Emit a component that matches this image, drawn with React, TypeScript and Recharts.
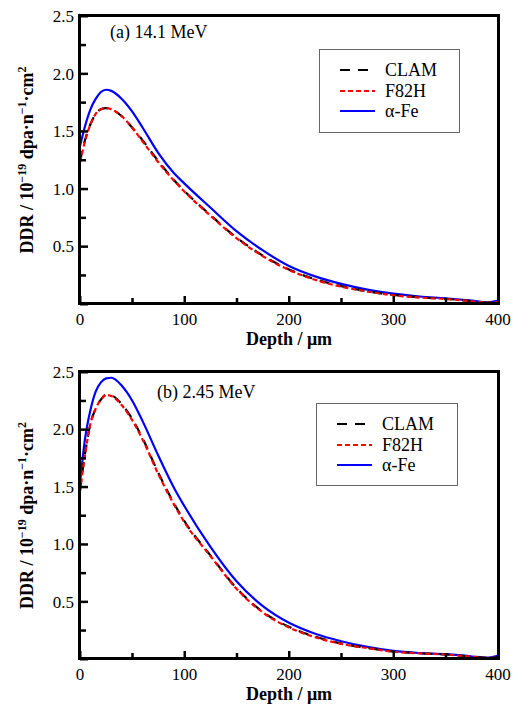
import React from "react";
import { LineChart, Line, XAxis, YAxis, Legend, Label } from "recharts";

const depth = [0, 5, 10, 15, 20, 25, 30, 40, 50, 60, 75, 90, 100, 125, 150, 175, 200, 225, 250, 275, 300, 325, 350, 375, 390, 400];

// (a) 14.1 MeV
const clamA = [1.24, 1.43, 1.56, 1.65, 1.69, 1.7, 1.69, 1.63, 1.53, 1.42, 1.24, 1.075, 0.98, 0.77, 0.575, 0.42, 0.3, 0.215, 0.155, 0.11, 0.078, 0.058, 0.045, 0.025, 0.012, 0.015];
const f82hA = [1.23, 1.42, 1.56, 1.65, 1.69, 1.7, 1.69, 1.63, 1.53, 1.41, 1.23, 1.07, 0.975, 0.765, 0.57, 0.415, 0.295, 0.21, 0.15, 0.108, 0.076, 0.056, 0.044, 0.024, 0.012, 0.015];
const feA = [1.37, 1.55, 1.69, 1.78, 1.84, 1.86, 1.85, 1.78, 1.67, 1.53, 1.31, 1.135, 1.045, 0.835, 0.63, 0.465, 0.33, 0.24, 0.175, 0.125, 0.09, 0.065, 0.05, 0.03, 0.015, 0.03];

// (b) 2.45 MeV
const clamB = [1.47, 1.8, 2.05, 2.18, 2.26, 2.3, 2.295, 2.22, 2.09, 1.92, 1.62, 1.355, 1.2, 0.9, 0.615, 0.41, 0.28, 0.195, 0.135, 0.097, 0.065, 0.05, 0.04, 0.02, 0.01, 0.015];
const f82hB = [1.46, 1.79, 2.05, 2.18, 2.26, 2.3, 2.29, 2.21, 2.08, 1.91, 1.61, 1.345, 1.19, 0.895, 0.61, 0.405, 0.275, 0.19, 0.132, 0.095, 0.063, 0.049, 0.039, 0.02, 0.01, 0.015];
const feB = [1.53, 1.93, 2.17, 2.33, 2.41, 2.445, 2.45, 2.38, 2.25, 2.07, 1.77, 1.49, 1.33, 0.975, 0.675, 0.46, 0.315, 0.22, 0.155, 0.105, 0.07, 0.052, 0.042, 0.022, 0.012, 0.03];

const xTicks = [0, 50, 100, 150, 200, 250, 300, 350, 400];
const yTicks = [0, 0.25, 0.5, 0.75, 1, 1.25, 1.5, 1.75, 2, 2.25, 2.5];

const FONT = '"Liberation Serif", "Times New Roman", Times, serif';

const XTick = (props: any) => {
  const { x, y, payload } = props;
  const major = payload.value % 100 === 0;
  const len = major ? 8 : 6;
  return (
    <g>
      <rect x={x - 1} y={y - len} width={2.5} height={len} fill="#000" />
      {major && (
        <text x={x} y={y + 21} textAnchor="middle" fontSize={17} fontFamily={FONT} fill="#000">
          {payload.value}
        </text>
      )}
    </g>
  );
};

const YTick = (props: any) => {
  const { x, y, payload } = props;
  const v = payload.value;
  const major = Math.round(v * 4) % 2 === 0;
  return (
    <g>
      <rect x={x} y={y - 1} width={major ? 8 : 6} height={2.5} fill="#000" />
      {major && v > 0 && (
        <text x={x - 6} y={y + 6} textAnchor="end" fontSize={17} fontFamily={FONT} fill="#000">
          {v.toFixed(1)}
        </text>
      )}
    </g>
  );
};

const YLabel = (props: any) => {
  const vb = props.viewBox || { y: 0, height: 0 };
  const cy = vb.y + vb.height / 2;
  return (
    <text
      x={33}
      y={cy}
      transform={`rotate(-90, 33, ${cy})`}
      textAnchor="middle"
      fontSize={18}
      fontWeight="bold"
      fontFamily={FONT}
      fill="#000"
    >
      DDR / 10
      <tspan dy={-7} fontSize={12}>−19</tspan>
      <tspan dy={7}> dpa·n</tspan>
      <tspan dy={-7} fontSize={12}>−1</tspan>
      <tspan dy={7}>·cm</tspan>
      <tspan dy={-7} fontSize={12}>2</tspan>
    </text>
  );
};

const XLabel = (props: any) => {
  const vb = props.viewBox || { x: 0, y: 0, width: 0 };
  return (
    <text
      x={vb.x + vb.width / 2}
      y={vb.y + 41}
      textAnchor="middle"
      fontSize={18}
      fontWeight="bold"
      fontFamily={FONT}
      fill="#000"
    >
      Depth / μm
    </text>
  );
};

const legendItems = [
  { name: "CLAM", color: "#000", dash: "10 8" },
  { name: "F82H", color: "#ff0000", dash: "5 3" },
  { name: "α-Fe", color: "#0000ff", dash: undefined },
];

const LegendBox = ({ w, h }: { w: number; h: number }) => (
  <div
    style={{
      position: "relative",
      width: w,
      height: h,
      boxSizing: "border-box",
      border: "1px solid #666",
      background: "#fff",
      fontFamily: FONT,
      fontSize: 18,
      color: "#000",
    }}
  >
    {legendItems.map((it, i) => (
      <div key={it.name}>
        <svg
          width={60}
          height={20}
          style={{ position: "absolute", left: 0, top: 10 + i * 20.5, display: "block" }}
        >
          <line x1={20} x2={55} y1={10} y2={10} stroke={it.color} strokeWidth={2} strokeDasharray={it.dash} />
        </svg>
        <span style={{ position: "absolute", left: 65, top: 10 + i * 20.5, lineHeight: "20px" }}>{it.name}</span>
      </div>
    ))}
  </div>
);

type PanelProps = {
  title: string;
  clam: number[];
  f82h: number[];
  fe: number[];
  height: number;
  top: number;
  bottom: number;
  legend: { left: number; top: number; w: number; h: number };
  titlePos: { left: number; top: number };
};

function Panel({ title, clam, f82h, fe, height, top, bottom, legend, titlePos }: PanelProps) {
  const rows = depth.map((d, i) => ({ depth: d, clam: clam[i], f82h: f82h[i], fe: fe[i] }));
  const plotH = height - top - bottom;
  return (
    <div style={{ position: "relative", width: 531, height }}>
      <LineChart width={531} height={height} data={rows} margin={{ top, right: 33, bottom: 0, left: 0 }}>
        <XAxis
          dataKey="depth"
          type="number"
          domain={[0, 400]}
          ticks={xTicks}
          interval={0}
          axisLine={false}
          tickLine={false}
          tickSize={0}
          tickMargin={0}
          tick={<XTick />}
          height={bottom}
        >
          <Label content={<XLabel />} />
        </XAxis>
        <YAxis
          type="number"
          domain={[0, 2.5]}
          ticks={yTicks}
          interval={0}
          axisLine={false}
          tickLine={false}
          tickSize={0}
          tickMargin={0}
          tick={<YTick />}
          width={80}
        >
          <Label content={<YLabel />} />
        </YAxis>
        <Line type="monotone" dataKey="fe" stroke="#0000ff" strokeWidth={2.2} dot={false} isAnimationActive={false} />
        <Line type="monotone" dataKey="clam" stroke="#000" strokeWidth={2.2} strokeDasharray="10 8" dot={false} isAnimationActive={false} />
        <Line type="monotone" dataKey="f82h" stroke="#ff0000" strokeWidth={2.2} strokeDasharray="5 3" dot={false} isAnimationActive={false} />
        <Legend
          layout="vertical"
          align="center"
          verticalAlign="middle"
          wrapperStyle={{ position: "absolute", left: legend.left, top: legend.top, width: legend.w, height: legend.h }}
          content={() => <LegendBox w={legend.w} h={legend.h} />}
        />
      </LineChart>
      {/* plot frame */}
      <div
        style={{
          position: "absolute",
          left: 78,
          top: top - 2,
          width: 422,
          height: plotH + 3,
          boxSizing: "border-box",
          border: "3px solid #000",
          pointerEvents: "none",
          zIndex: 2,
        }}
      />
      <div
        style={{
          position: "absolute",
          left: titlePos.left,
          top: titlePos.top,
          fontFamily: FONT,
          fontSize: 18,
          lineHeight: "20px",
          color: "#000",
        }}
      >
        {title}
      </div>
    </div>
  );
}

export default function App() {
  return (
    <div style={{ position: "absolute", left: 0, top: 0, width: 531, height: 707, background: "#fff" }}>
      <Panel
        title="(a) 14.1 MeV"
        clam={clamA}
        f82h={f82hA}
        fe={feA}
        height={350}
        top={16}
        bottom={46}
        legend={{ left: 319, top: 49, w: 141, h: 84 }}
        titlePos={{ left: 110, top: 22 }}
      />
      <Panel
        title="(b) 2.45 MeV"
        clam={clamB}
        f82h={f82hB}
        fe={feB}
        height={357}
        top={22}
        bottom={48}
        legend={{ left: 316, top: 53, w: 142, h: 83 }}
        titlePos={{ left: 157, top: 32 }}
      />
    </div>
  );
}
